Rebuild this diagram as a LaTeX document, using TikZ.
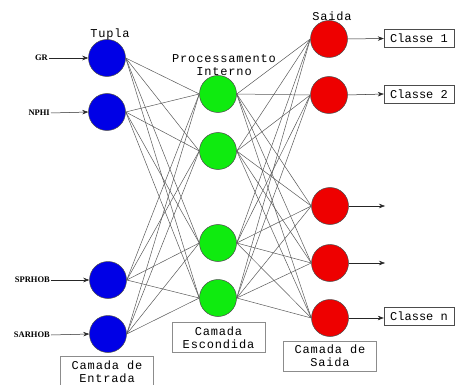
\documentclass[tikz,border=0pt]{standalone}
\usepackage{fontspec}
\setmonofont[LetterSpace=7]{Liberation Mono}
\newfontfamily\plainmono{Liberation Mono}
\newfontfamily\lblfont{Liberation Serif}
\usetikzlibrary{arrows.meta}
\definecolor{nblue}{RGB}{0,0,230}
\definecolor{ngreen}{RGB}{15,235,15}
\definecolor{nred}{RGB}{238,0,0}
\begin{document}
\begin{tikzpicture}[x=1pt,y=-1pt,
 neuron/.style={circle, draw=black!70, line width=0.5pt, minimum size=37pt, inner sep=0pt},
 link/.style={draw=black!65, line width=0.5pt},
 arr/.style={-{Stealth[length=6pt,width=4.5pt]}, line width=0.5pt, draw=black!85},
 mono/.style={font=\ttfamily\fontsize{12}{13}\selectfont, align=center},
 inlbl/.style={font=\lblfont\bfseries\fontsize{8.5}{9}\selectfont, anchor=east, inner sep=1pt},
 classbox/.style={draw=black!70, font=\plainmono\fontsize{12}{13}\selectfont, minimum width=70pt, minimum height=18pt, inner sep=0pt, text depth=0pt},
 layerbox/.style={draw=black!45, mono, minimum width=93pt, minimum height=30pt, inner sep=0pt}]
\useasboundingbox (0,0) rectangle (455,385);
\clip (0,0) rectangle (455,385);
% input layer
\node[neuron, fill=nblue] (b1) at (107,58) {};
\node[neuron, fill=nblue] (b2) at (107,112) {};
\node[neuron, fill=nblue] (b3) at (108,280) {};
\node[neuron, fill=nblue] (b4) at (108,334) {};
% hidden layer
\node[neuron, fill=ngreen] (g1) at (218,94) {};
\node[neuron, fill=ngreen] (g2) at (218,151) {};
\node[neuron, fill=ngreen] (g3) at (218,243) {};
\node[neuron, fill=ngreen] (g4) at (218,298) {};
% output layer
\node[neuron, fill=nred] (r1) at (329,39) {};
\node[neuron, fill=nred] (r2) at (329,95) {};
\node[neuron, fill=nred] (r3) at (330,206) {};
\node[neuron, fill=nred] (r4) at (330,263) {};
\node[neuron, fill=nred] (r5) at (330,318) {};
% connections
\foreach \i in {1,...,4}{\foreach \j in {1,...,4}{\draw[link] (b\i.east) -- (g\j.west);}}
\foreach \i in {1,...,4}{\foreach \j in {1,...,5}{\draw[link] (g\i.east) -- (r\j.west);}}
% titles
\node[mono] (tupla) at (110,34) {Tupla};
\node[mono] (proc) at (224,65) {Processamento\\Interno};
\node[mono] (saida) at (332,16) {Saida};
% input labels
\node[inlbl] (lgr) at (49,58) {GR};
\node[inlbl] (lnphi) at (51,113) {NPHI};
\node[inlbl] (lsprhob) at (51,280) {SPRHOB};
\node[inlbl] (lsarhob) at (51,335) {SARHOB};
\draw[arr] (lgr.east) -- (b1.west);
\draw[arr] (lnphi.east) -- (b2.west);
\draw[arr] (lsprhob.east) -- (b3.west);
\draw[arr] (lsarhob.east) -- (b4.west);
% outputs
\node[classbox] (c1) at (419,38.5) {Classe 1};
\node[classbox] (c2) at (419,94) {Classe 2};
\node[classbox] (cn) at (419,316.5) {Classe n};
\coordinate (o3) at (385,206);
\coordinate (o4) at (385,263);
\draw[arr] (r1.east) -- (c1.west);
\draw[arr] (r2.east) -- (c2.west);
\draw[arr] (r3.east) -- (o3);
\draw[arr] (r4.east) -- (o4);
\draw[arr] (r5.east) -- (r5.east -| cn.west);
% layer boxes
\node[layerbox, minimum height=32pt] (lin) at (107,372) {Camada de\\Entrada};
\node[layerbox] (lhid) at (218.5,337.5) {Camada\\Escondida};
\node[layerbox] (lout) at (330,356) {Camada de\\Saida};
\end{tikzpicture}
\end{document}
